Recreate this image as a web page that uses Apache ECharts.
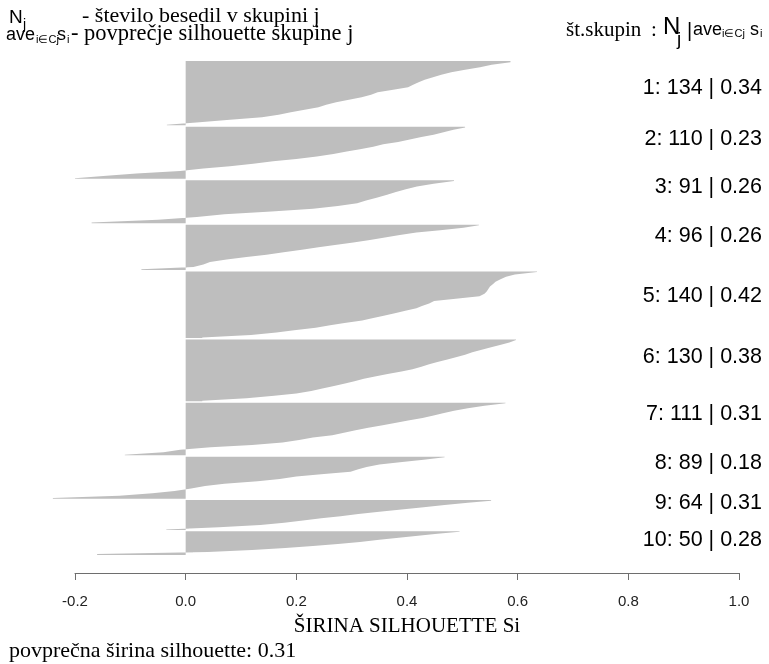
<!DOCTYPE html>
<html>
<head>
<meta charset="utf-8">
<script src="https://cdn.jsdelivr.net/npm/echarts/dist/echarts.min.js"></script>
<style>
  html, body { margin: 0; padding: 0; background: #ffffff; }
  #chart { width: 769px; height: 664px; }
</style>
</head>
<body>
<div id="chart"></div>
<script>
// ---- data ----
const clusterIds   = [1, 2, 3, 4, 5, 6, 7, 8, 9, 10];
const clusterSizes = [134, 110, 91, 96, 140, 130, 111, 89, 64, 50];
const clusterAvg   = ['0.34', '0.23', '0.26', '0.26', '0.42', '0.38', '0.31', '0.18', '0.31', '0.28'];
const overallAvg   = '0.31';
const xTickValues  = [-0.2, 0.0, 0.2, 0.4, 0.6, 0.8, 1.0];

// silhouette widths per cluster (sorted, top to bottom), each value stands for an equal share of the cluster's members
const sil1  = [0.587, 0.553, 0.532, 0.505, 0.48, 0.462, 0.447, 0.432, 0.421, 0.411, 0.402, 0.375, 0.347, 0.335, 0.318, 0.295, 0.272, 0.254, 0.24, 0.215, 0.19, 0.168, 0.138, 0.08, 0.025, -0.034];
const sil2  = [0.505, 0.484, 0.466, 0.448, 0.426, 0.405, 0.384, 0.357, 0.339, 0.315, 0.291, 0.267, 0.237, 0.2, 0.158, 0.122, 0.08, 0.032, -0.01, -0.089, -0.143, -0.2];
const sil3  = [0.485, 0.448, 0.418, 0.398, 0.38, 0.364, 0.345, 0.326, 0.31, 0.275, 0.23, 0.155, 0.07, 0.02, -0.05, -0.17];
const sil4  = [0.53, 0.502, 0.46, 0.417, 0.387, 0.36, 0.333, 0.303, 0.273, 0.24, 0.21, 0.177, 0.146, 0.11, 0.074, 0.044, 0.032, 0.014, -0.08];
const sil5  = [0.635, 0.595, 0.579, 0.569, 0.56, 0.555, 0.55, 0.547, 0.544, 0.54, 0.531, 0.488, 0.449, 0.44, 0.427, 0.417, 0.397, 0.378, 0.358, 0.339, 0.319, 0.287, 0.261, 0.235, 0.196, 0.164, 0.118, 0.03];
const sil6  = [0.597, 0.585, 0.568, 0.552, 0.535, 0.518, 0.505, 0.49, 0.473, 0.455, 0.44, 0.426, 0.41, 0.39, 0.365, 0.342, 0.322, 0.305, 0.286, 0.266, 0.247, 0.227, 0.2, 0.16, 0.11, 0.03];
const sil7  = [0.578, 0.54, 0.51, 0.485, 0.465, 0.448, 0.428, 0.402, 0.378, 0.356, 0.33, 0.307, 0.286, 0.265, 0.23, 0.205, 0.175, 0.12, 0.045, -0.01, -0.04, -0.11];
const sil8  = [0.468, 0.43, 0.387, 0.35, 0.327, 0.312, 0.298, 0.25, 0.2, 0.17, 0.13, 0.07, 0.035, 0.01, -0.02, -0.06, -0.12, -0.24];
const sil9  = [0.552, 0.51, 0.468, 0.43, 0.39, 0.35, 0.312, 0.28, 0.245, 0.212, 0.178, 0.135, 0.06, -0.035];
const sil10 = [0.495, 0.455, 0.42, 0.385, 0.35, 0.315, 0.275, 0.23, 0.18, 0.12, 0.04, -0.16];

const silValues = [sil1, sil2, sil3, sil4, sil5, sil6, sil7, sil8, sil9, sil10];
const gapUnits = 0.5; // space between clusters (in members), as in R's plot.silhouette

// ---- layout ----
const labelCentersY = [88, 139, 187, 236, 296, 357, 414, 463, 503, 540];

const starts = [];
let acc = 0;
clusterSizes.forEach((n, i) => { starts.push(acc); acc += n + (i < clusterSizes.length - 1 ? gapUnits : 0); });
const totalUnits = acc;

const SANS = '"Liberation Sans", Arial, sans-serif';
const SERIF = '"Liberation Serif", "Times New Roman", serif';

function renderItem(params, api) {
  const k = api.value(0);
  const vals = silValues[k];
  const n = clusterSizes[k];
  const start = starts[k];
  const step = n / vals.length;
  const last = clusterSizes.length - 1;
  const topPx = api.coord([0, start])[1] + (k > 0 ? 0.6 : 0);
  const botPx = api.coord([0, start + n])[1] - (k < last ? 0.6 : 0);
  const zeroX = api.coord([0, start])[0];
  const pts = [[zeroX, topPx], [api.coord([vals[0], start])[0], topPx]];
  vals.forEach((v, i) => {
    pts.push(api.coord([v, start + (i + 0.5) * step]));
  });
  pts.push([api.coord([vals[vals.length - 1], start + n])[0], botPx]);
  pts.push([zeroX, botPx]);
  return { type: 'polygon', shape: { points: pts }, style: { fill: '#bebebe' } };
}

function txt(text, x, y, size, family, align, extra) {
  return Object.assign({
    type: 'text', x: x, y: y, silent: true,
    style: { text: text, fontSize: size, fontFamily: family, fill: '#000',
             align: align || 'left', verticalAlign: 'middle' }
  }, extra || {});
}

const graphics = [
  // top-left legend
  txt('N', 9, 17.5, 19, SANS),
  txt('j', 23, 25, 14, SANS),
  txt('- število besedil v skupini j', 82, 16.5, 22, SERIF),
  txt('ave', 6, 35, 18, SANS),
  txt('i∈Cj', 36, 40, 11, SANS),
  txt('s', 57, 35, 18, SANS),
  txt('i', 67, 40, 11, SANS),
  txt('- povprečje silhouette skupine j', 71, 34.5, 22.5, SERIF),
  // top-right header
  txt('št.skupin', 566, 30, 21, SERIF),
  txt(':', 651, 30, 21, SERIF),
  txt('N', 663, 27.5, 24, SANS),
  txt('j', 677, 40, 19, SANS),
  txt('|', 687, 31, 20, SANS),
  txt('ave', 693, 30.5, 18, SANS),
  txt('i∈Cj', 722, 34, 11, SANS),
  txt('s', 750, 30.5, 18, SANS),
  txt('i', 760, 34, 11, SANS),
  // bottom texts
  txt('ŠIRINA SILHOUETTE Si', 407, 626, 21, SERIF, 'center'),
  txt('povprečna širina silhouette: ' + overallAvg, 9, 651, 22, SERIF)
];

clusterIds.forEach((id, i) => {
  graphics.push(txt(id + ': ' + clusterSizes[i] + ' | ' + clusterAvg[i], 762, labelCentersY[i], 21.5, SANS, 'right'));
});

const chart = echarts.init(document.getElementById('chart'), null, { renderer: 'canvas' });
chart.setOption({
  animation: false,
  backgroundColor: '#ffffff',
  grid: { left: 75, right: 30, top: 61, bottom: 109 },
  xAxis: {
    type: 'value',
    position: 'bottom',
    min: xTickValues[0],
    max: xTickValues[xTickValues.length - 1],
    interval: 0.2,
    offset: 18,
    axisLine: { show: true, onZero: false, lineStyle: { color: '#6e6e6e', width: 1 } },
    axisTick: { show: true, inside: false, length: 7, lineStyle: { color: '#6e6e6e' } },
    axisLabel: { fontSize: 15, fontFamily: SANS, color: '#222', margin: 21,
                 formatter: v => v.toFixed(1) },
    splitLine: { show: false }
  },
  yAxis: {
    type: 'value', inverse: true, min: 0, max: totalUnits, show: false
  },
  series: [{
    type: 'custom',
    renderItem: renderItem,
    clip: false,
    silent: true,
    data: clusterIds.map((_, i) => [i]),
    encode: { x: -1, y: -1 }
  }],
  graphic: graphics
});
</script>
</body>
</html>
